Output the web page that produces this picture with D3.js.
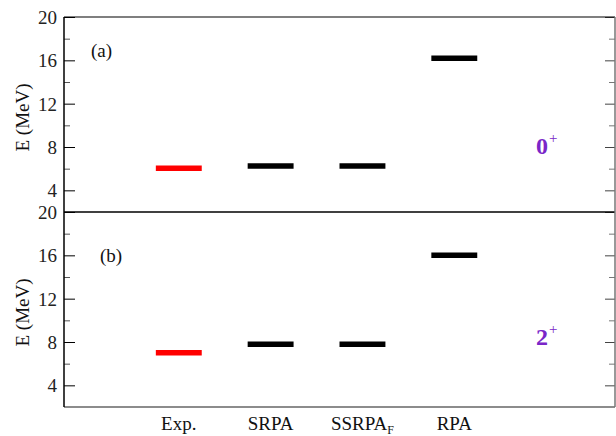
<!DOCTYPE html>
<html><head><meta charset="utf-8">
<script src="https://cdn.jsdelivr.net/npm/d3@7"></script>
<style>body{margin:0;background:#fff}svg{display:block}svg text{font-family:"Liberation Serif","Times New Roman",Times,serif}</style>
</head><body><svg id="c" width="616" height="436"></svg>
<script>
const categories = ["Exp.", "SRPA", "SSRPA", "RPA"];
const catPos = [1.25, 2.25, 3.25, 4.25];
const barColors = ["#ff0000", "#000000", "#000000", "#000000"];
const values0 = [6.05, 6.25, 6.25, 16.2];
const values2 = [7.0, 7.8, 7.8, 16.0];
const yTicks = [4, 8, 12, 16, 20];
const yMinor = [6, 10, 14, 18];
const panels = [
  {tag: "(a)", state: "0", vals: values0, top: 17, bottom: 212},
  {tag: "(b)", state: "2", vals: values2, top: 212, bottom: 407}
];

const svg = d3.select("#c");
const L = 64, R = 615;
const x = d3.scaleLinear().domain([0, 6]).range([L, R]);
const halfW = 0.25;
const FF = "'Liberation Serif', 'Times New Roman', serif";

panels.forEach((p, i) => {
  const y = d3.scaleLinear().domain([2, 20]).range([p.bottom, p.top]);
  const g = svg.append("g");
  const la = g.append("g").attr("transform", `translate(${L},0)`)
    .call(d3.axisLeft(y).tickValues(yTicks).tickSize(-11).tickPadding(7).tickFormat(d3.format("d")));
  la.attr("font-family", FF).attr("font-size", 19);
  la.select(".domain").remove();
  la.selectAll(".tick line").attr("stroke", "#000");
  la.selectAll(".tick text").attr("font-size", 19).attr("fill", "#222").attr("dy", "0.34em");
  const lm = g.append("g").attr("transform", `translate(${L},0)`)
    .call(d3.axisLeft(y).tickValues(yMinor).tickSize(-6).tickFormat(""));
  lm.select(".domain").remove();
  lm.selectAll(".tick line").attr("stroke", "#555");
  const ra = g.append("g").attr("transform", `translate(${R},0)`)
    .call(d3.axisRight(y).tickValues(yTicks).tickSize(-10).tickFormat(""));
  ra.select(".domain").remove();
  ra.selectAll(".tick line").attr("stroke", "#444");
  const rm = g.append("g").attr("transform", `translate(${R},0)`)
    .call(d3.axisRight(y).tickValues(yMinor).tickSize(-6).tickFormat(""));
  rm.select(".domain").remove();
  rm.selectAll(".tick line").attr("stroke", "#777");

  g.selectAll("line.lvl").data(p.vals).enter().append("line")
    .attr("class", "lvl")
    .attr("x1", (d, j) => x(catPos[j] - halfW))
    .attr("x2", (d, j) => x(catPos[j] + halfW))
    .attr("y1", d => y(d)).attr("y2", d => y(d))
    .attr("stroke", (d, j) => barColors[j]).attr("stroke-width", 5.5);

  g.append("text").attr("x", i === 0 ? 91 : 100).attr("y", i === 0 ? 57 : 262)
    .attr("font-family", FF).attr("font-size", 19).attr("fill", "#111").text(p.tag);
  const st = g.append("text").attr("x", 536).attr("y", i === 0 ? 154 : 345)
    .attr("font-family", FF).attr("font-size", 24).attr("font-weight", "bold").attr("fill", "#7a26c8");
  st.append("tspan").text(p.state);
  st.append("tspan").attr("font-size", 15).attr("font-weight", "normal").attr("dy", -11).attr("dx", 1).text("+");

  g.append("text").attr("transform", `translate(29,${(p.top + p.bottom) / 2 + 3}) rotate(-90)`)
    .attr("font-family", FF).attr("text-anchor", "middle").attr("font-size", 19).attr("fill", "#111").text("E (MeV)");
});

svg.append("line").attr("x1", L).attr("x2", R).attr("y1", 17).attr("y2", 17).attr("stroke", "#000").attr("stroke-width", 1.2);
svg.append("line").attr("x1", L).attr("x2", R).attr("y1", 212).attr("y2", 212).attr("stroke", "#000").attr("stroke-width", 1.5);
svg.append("line").attr("x1", L).attr("x2", R).attr("y1", 407).attr("y2", 407).attr("stroke", "#666").attr("stroke-width", 1.5);
svg.append("line").attr("x1", L).attr("x2", L).attr("y1", 17).attr("y2", 407).attr("stroke", "#000").attr("stroke-width", 1.5);
svg.append("line").attr("x1", R).attr("x2", R).attr("y1", 17).attr("y2", 407).attr("stroke", "#777").attr("stroke-width", 1.5);

const cl = svg.append("g").selectAll("text").data(categories).enter().append("text")
  .attr("x", (d, j) => x(catPos[j])).attr("y", 430)
  .attr("font-family", FF).attr("text-anchor", "middle").attr("font-size", 19).attr("fill", "#111");
cl.each(function(d) {
  const t = d3.select(this);
  t.append("tspan").text(d);
  if (d === "SSRPA") t.append("tspan").attr("font-size", 12).attr("dy", 4).text("F");
});
</script></body></html>
